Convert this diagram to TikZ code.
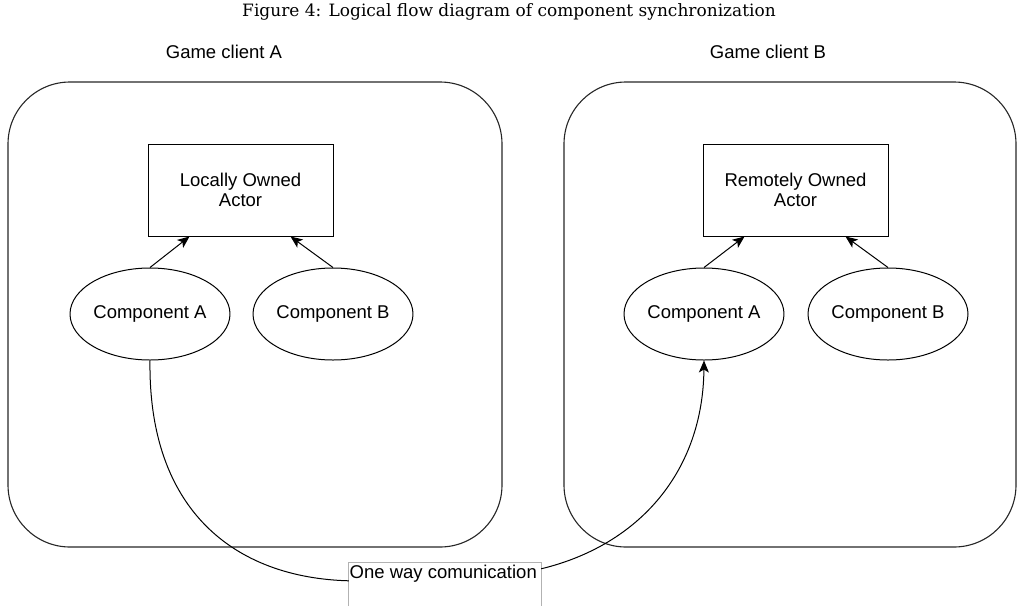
\documentclass[tikz,border=0pt]{standalone}
\usepackage{fontspec}
\setmainfont{Liberation Sans}
\newfontfamily\capfont{DejaVu Serif}
\usetikzlibrary{arrows.meta,calc,shapes.geometric}
\tikzset{
  grp/.style={draw=black!85, line width=1.1pt, rounded corners=62pt, inner sep=0},
  actor/.style={draw, line width=1pt, minimum width=185pt, minimum height=92pt, align=center, inner sep=0, font=\fontsize{18.5}{20}\selectfont},
  comp/.style={draw, ellipse, line width=1pt, minimum width=154pt, minimum height=92pt, inner sep=0, font=\fontsize{18.5}{20}\selectfont},
  lbl/.style={font=\fontsize{18.5}{20}\selectfont},
  arr/.style={line width=1pt, -{Stealth[length=12pt,width=10pt,inset=3pt]}},
  link/.style={line width=1pt}
}
\begin{document}
\begin{tikzpicture}[x=1pt,y=-1pt]
\useasboundingbox (0,0) rectangle (1018,606);
\node[font=\capfont\fontsize{17}{19}\selectfont] (cap) at (509,12) {Figure 4: Logical flow diagram of component synchronization};
\node[lbl] (tA) at (224,52) {Game client A};
\node[lbl] (tB) at (768,52) {Game client B};
% group boxes
\node[grp, minimum width=494pt, minimum height=465pt] (gA) at (255,314.5) {};
\node[grp, minimum width=452pt, minimum height=465pt] (gB) at (790,314.5) {};
% actors
\node[actor] (rA) at (240.5,190) {Locally Owned\\Actor};
\node[actor] (rB) at (795.5,190) {Remotely Owned\\Actor};
% components
\node[comp] (cA1) at (150,314) {Component A};
\node[comp] (cB1) at (333,314) {Component B};
\node[comp] (cA2) at (704,314) {Component A};
\node[comp] (cB2) at (888,314) {Component B};
% arrows to actors
\draw[arr] (cA1.north) -- ($(rA.south west)+(42,0)$);
\draw[arr] (cB1.north) -- ($(rA.south east)+(-43,0)$);
\draw[arr] (cA2.north) -- ($(rB.south west)+(42,0)$);
\draw[arr] (cB2.north) -- ($(rB.south east)+(-43,0)$);
% communication label
\node[minimum width=192pt, minimum height=43pt, inner sep=0] (lbl) at (445,584.5) {};
\draw[gray!60, line width=0.8pt] (lbl.south west) -- (lbl.north west) -- (lbl.north east) -- (lbl.south east);
\node[lbl, anchor=base west, inner sep=0] (lbltext) at (349.5,578) {One way comunication};
% communication curves
\draw[link] (cA1.south) .. controls +(-2,150) and +(-114,-3) .. ($(lbl.north west)+(0,18)$);
\draw[arr] ($(lbl.north east)+(0,6)$) .. controls +(99,-24) and +(-1,110) .. (cA2.south);
\end{tikzpicture}
\end{document}
